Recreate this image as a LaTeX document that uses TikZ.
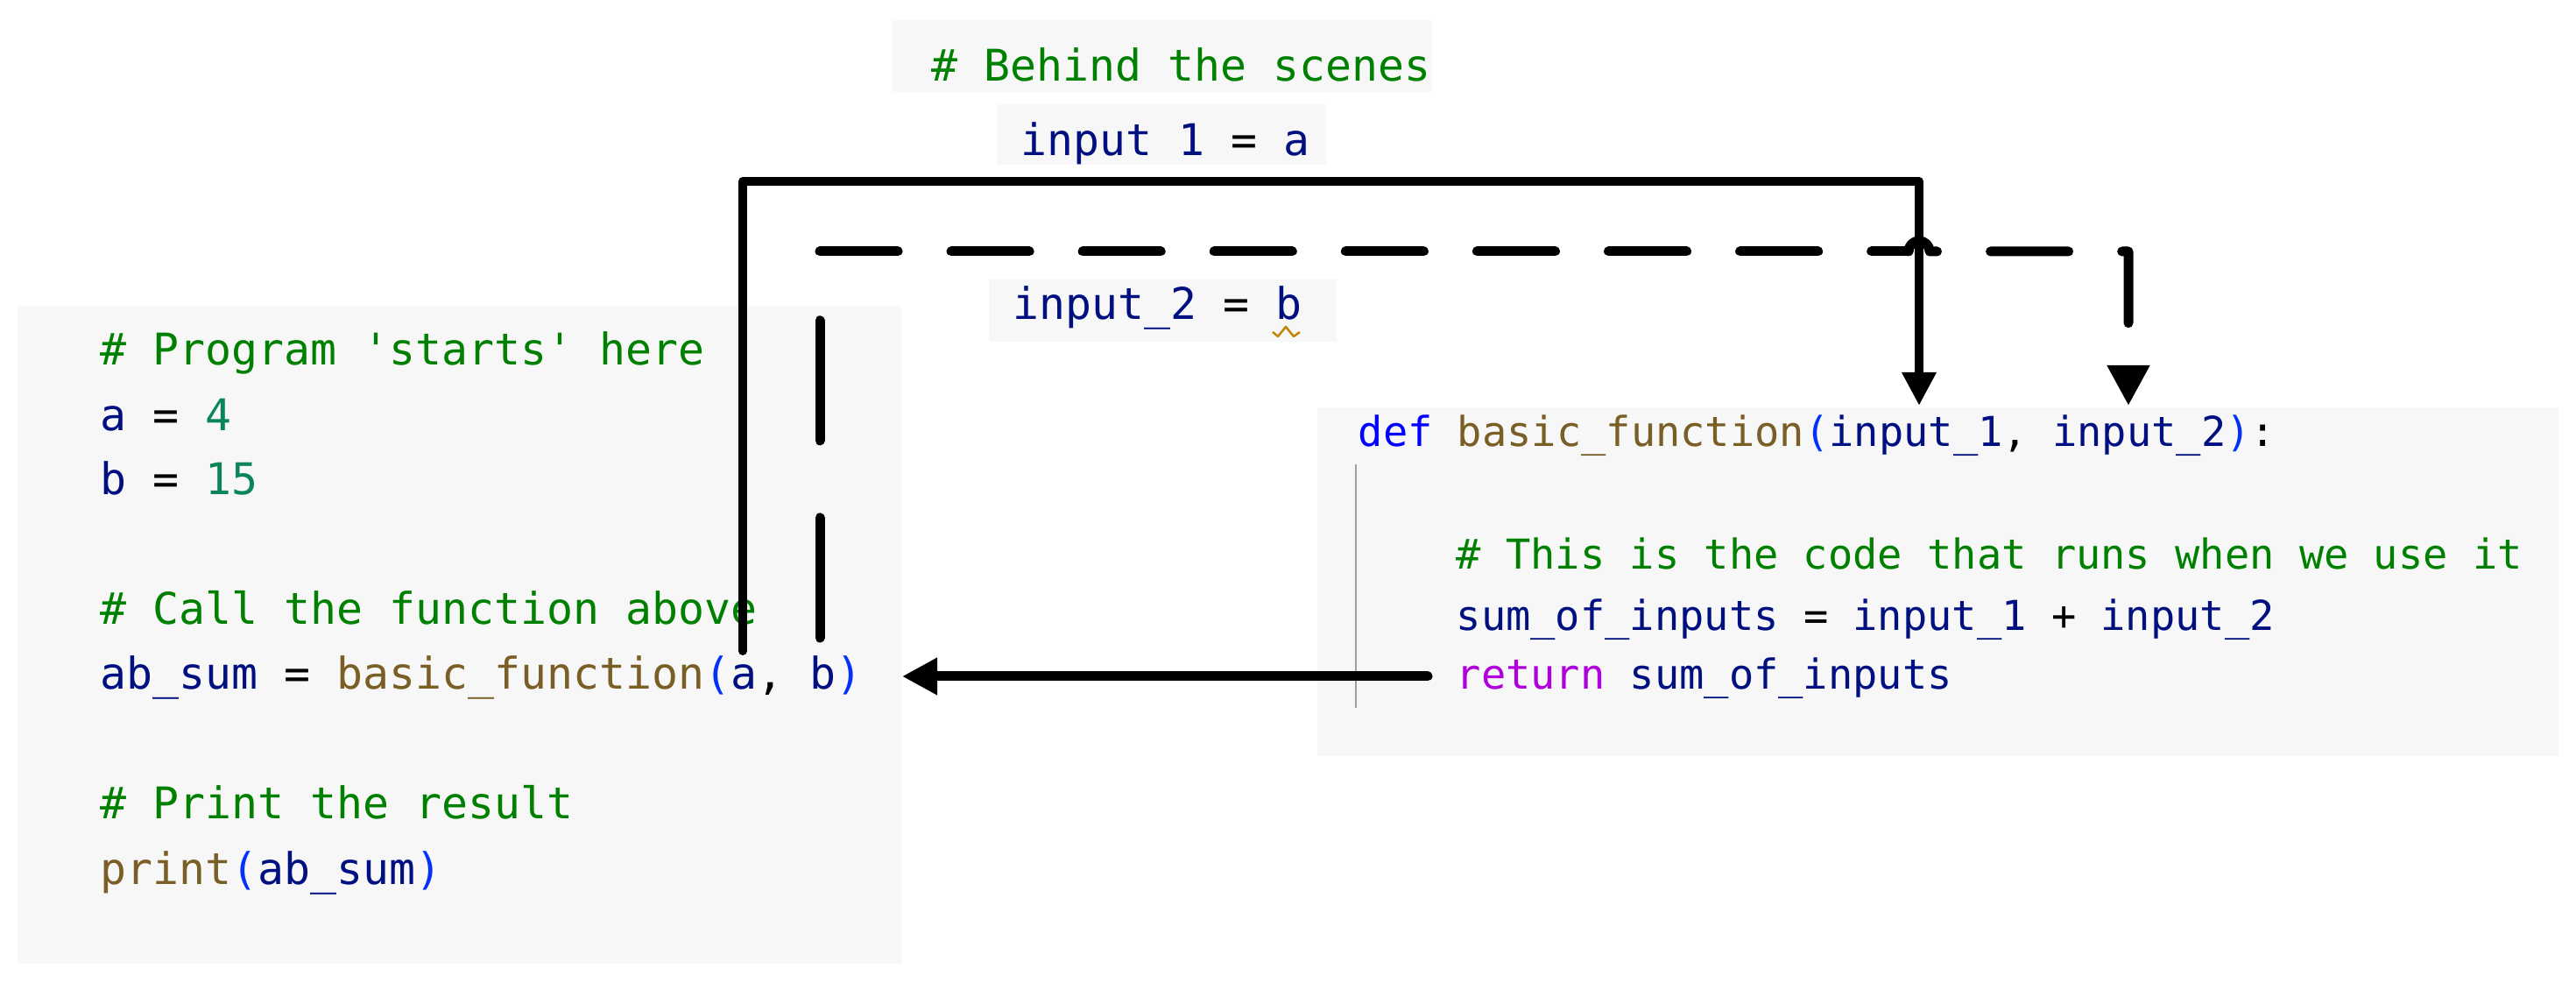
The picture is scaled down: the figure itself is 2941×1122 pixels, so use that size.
\documentclass[tikz,border=0pt]{standalone}
\usepackage{fontspec}
\setmonofont{DejaVu Sans Mono}
\usetikzlibrary{arrows.meta}

% editor palette
\definecolor{codebg}{HTML}{F7F7F7}
\definecolor{pycomment}{HTML}{008000}
\definecolor{pyvar}{HTML}{001080}
\definecolor{pynum}{HTML}{098658}
\definecolor{pyfunc}{HTML}{795E26}
\definecolor{pydef}{HTML}{0000FF}
\definecolor{pyret}{HTML}{AF00DB}
\definecolor{pyparen}{HTML}{0431FA}
\definecolor{pywarn}{HTML}{BF8803}
\definecolor{guide}{HTML}{9E9E9E}

% syntax token helpers
\newcommand\pyC[1]{\textcolor{pycomment}{#1}}
\newcommand\pyV[1]{\textcolor{pyvar}{#1}}
\newcommand\pyN[1]{\textcolor{pynum}{#1}}
\newcommand\pyF[1]{\textcolor{pyfunc}{#1}}
\newcommand\pyD[1]{\textcolor{pydef}{#1}}
\newcommand\pyR[1]{\textcolor{pyret}{#1}}
\newcommand\pyP[1]{\textcolor{pyparen}{#1}}

\begin{document}
\begin{tikzpicture}[x=0.01cm, y=-0.01cm,
  codebox/.style={fill=codebg, draw=none, inner sep=0pt, anchor=north west},
  codeL/.style={anchor=base west, inner sep=0pt, font=\ttfamily\fontsize{14.17pt}{17pt}\selectfont},
  codeR/.style={anchor=base west, inner sep=0pt, font=\ttfamily\fontsize{13.37pt}{16pt}\selectfont},
  solidflow/.style={draw=black, line width=0.1cm, line join=round, line cap=round,
                    -{Triangle[length=0.38cm, width=0.37cm]}},
  dashflow/.style={draw=black, line width=0.11cm, line join=round, line cap=round},
  retflow/.style={draw=black, line width=0.11cm, line cap=round,
                  -{Triangle[length=0.40cm, width=0.40cm]}}]

\useasboundingbox (0,0) rectangle (2941,1122);

% code panels
\node[codebox, minimum width=6.16cm, minimum height=0.82cm] (tbox1) at (1018,22) {};
\node[codebox, minimum width=3.75cm, minimum height=0.69cm] (tbox2) at (1138,118) {};
\node[codebox, minimum width=3.97cm, minimum height=0.71cm] (tbox3) at (1128,318) {};
\node[codebox, minimum width=10.09cm, minimum height=7.51cm] (lbox) at (19,348) {};
\node[codebox, minimum width=14.16cm, minimum height=3.98cm] (rbox) at (1503,464) {};

% behind the scenes
\node[codeL] (t1) at (1063,93) {\pyC{\# Behind the scenes}};
\node[codeL] (t2) at (1165,178) {\pyV{input 1} = \pyV{a}};
\node[codeL] (t3) at (1156,365) {\pyV{input\_2} = \pyV{b}};
\draw[pywarn, line width=0.025cm, line join=round]
  (1453,379) -- (1459,384) -- (1468,373) -- (1477,384) -- (1484,379);

% main program
\node[codeL] (l1) at (114,417) {\pyC{\# Program \textquotesingle starts\textquotesingle\ here}};
\node[codeL] (l2) at (114,492) {\pyV{a} = \pyN{4}};
\node[codeL] (l3) at (114,565) {\pyV{b} = \pyN{15}};
\node[codeL] (l4) at (114,713) {\pyC{\# Call the function above}};
\node[codeL] (l5) at (114,787) {\pyV{ab\_sum} = \pyF{basic\_function}\pyP{(}\pyV{a}, \pyV{b}\pyP{)}};
\node[codeL] (l6) at (114,935) {\pyC{\# Print the result}};
\node[codeL] (l7) at (114,1010) {\pyF{print}\pyP{(}\pyV{ab\_sum}\pyP{)}};

% function definition
\draw[guide, line width=0.02cm] (1548,530) -- (1548,808);
\node[codeR] (r1) at (1550,510) {\pyD{def} \pyF{basic\_function}\pyP{(}\pyV{input\_1}, \pyV{input\_2}\pyP{)}:};
\node[codeR] (r2) at (1662,650) {\pyC{\# This is the code that runs when we use it}};
\node[codeR] (r3) at (1662,720) {\pyV{sum\_of\_inputs} = \pyV{input\_1} + \pyV{input\_2}};
\node[codeR] (r4) at (1662,787) {\pyR{return} \pyV{sum\_of\_inputs}};

% connector end points
\coordinate (aStart) at (848,743);
\coordinate (aTurn) at (848,207);
\coordinate (in1Tip) at (2191,463);
\coordinate (bStart) at (936,728);
\coordinate (bTurn) at (936,287);
\coordinate (hopL) at (2179,287);
\coordinate (hopR) at (2203,287);
\coordinate (in2Tip) at (2430,463);
\coordinate (retStart) at (1630,772);

% a -> input_1
\draw[solidflow] (aStart) -- (aTurn) -| (in1Tip);

% b -> input_2 (dashed, hopping over the solid line)
\draw[dashflow, dash pattern=on 1.37cm off 0.88cm] (bStart) -- (bTurn);
\draw[dashflow, dash pattern=on 0.89cm off 0.61cm] (bTurn) -- (hopL);
\draw[dashflow, dash pattern=on 0.89cm off 0.61cm, dash phase=0.43cm,
      -{Triangle[length=0.46cm, width=0.46cm]}]
  (hopL) arc[start angle=180, end angle=0, radius=0.12cm] -- (hopR) -| (in2Tip);

% return value back to the call
\draw[retflow] (retStart) -- (retStart -| lbox.east);

\end{tikzpicture}
\end{document}
